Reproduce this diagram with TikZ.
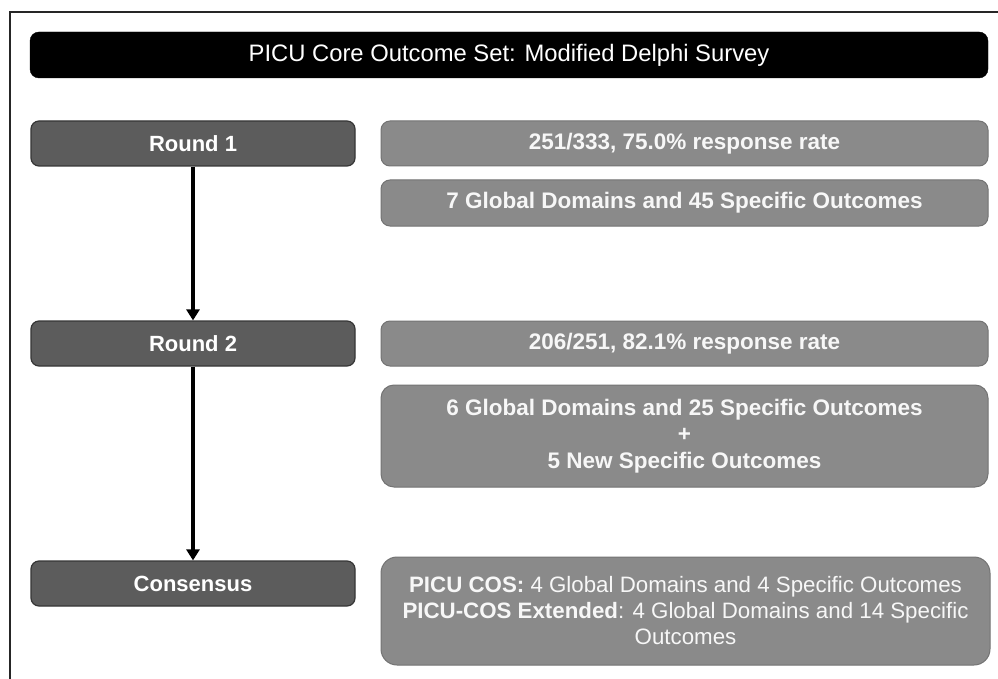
\documentclass[tikz,border=0pt]{standalone}
\usepackage{fontspec}
\setmainfont{Liberation Sans}
\usetikzlibrary{arrows.meta}

\definecolor{stagefill}{HTML}{5C5C5C}
\definecolor{stageedge}{HTML}{363636}
\definecolor{infofill}{HTML}{8A8A8A}
\definecolor{infoedge}{HTML}{737373}
\definecolor{textlight}{HTML}{F7F7F7}

\tikzset{
  titlebar/.style={fill=black, draw=black, rounded corners=9pt, text=white,
    minimum width=958pt, minimum height=46pt, inner sep=0pt,
    font=\fontsize{23.8}{28}\selectfont},
  stagebox/.style={fill=stagefill, draw=stageedge, line width=1.2pt,
    rounded corners=8pt, text=white, minimum width=324pt, minimum height=45pt,
    inner sep=0pt, font=\bfseries\fontsize{22}{26}\selectfont},
  infobox/.style={fill=infofill, draw=infoedge, line width=1pt,
    rounded corners=9pt, text=textlight, minimum width=607pt, minimum height=45pt,
    inner sep=0pt, align=center, font=\bfseries\fontsize{22.5}{26}\selectfont},
  flow/.style={line width=3.2pt, draw=black, -{Triangle[length=11pt,width=13pt]}},
}

\begin{document}
\begin{tikzpicture}[x=1pt,y=-1pt]
\useasboundingbox (0,0) rectangle (998,679);
\fill[white] (0,0) rectangle (998,679);

% outer frame (left and top edges)
\draw[line width=1.4pt, black!85] (10,679) -- (10,12) -- (998,12);

% heading
\node[titlebar] (title) at (509,55) {PICU Core Outcome Set: Modified Delphi Survey};

% stages
\node[stagebox] (r1) at (193,143.5) {Round 1};
\node[stagebox] (r2) at (193,343.5) {Round 2};
\node[stagebox] (cons) at (193,583.5) {Consensus};

% results
\node[infobox] (i1) at (684.5,143.5) {251/333, 75.0\% response rate};
\node[infobox, minimum height=46pt] (i2) at (684.5,203) {7 Global Domains and 45 Specific Outcomes};
\node[infobox] (i3) at (684.5,343.5) {206/251, 82.1\% response rate};
\node[infobox, minimum height=102pt, rounded corners=13pt,
      font=\bfseries\fontsize{22.5}{26.5}\selectfont] (i4) at (684.5,436)
  {6 Global Domains and 25 Specific Outcomes\\+\\5 New Specific Outcomes};
\node[infobox, minimum width=609pt, minimum height=108pt, rounded corners=16pt,
      font=\fontsize{22.3}{26}\selectfont] (i5) at (685.5,611)
  {{\bfseries PICU COS:} 4 Global Domains and 4 Specific Outcomes\\
   {\bfseries PICU-COS Extended}: 4 Global Domains and 14 Specific\\
   Outcomes};

% flow between stages
\draw[flow] (r1.south) -- (r2.north);
\draw[flow] (r2.south) -- (cons.north);
\end{tikzpicture}
\end{document}
